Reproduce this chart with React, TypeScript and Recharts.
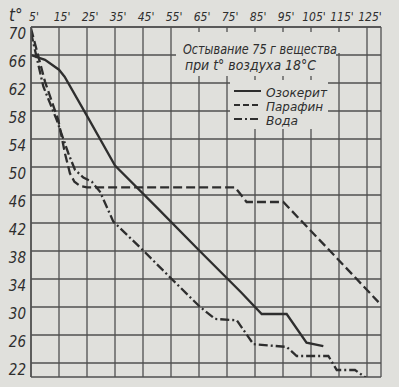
import React from 'react';
import { CartesianGrid, Line, LineChart, XAxis, YAxis } from 'recharts';

// minutes / °C
const ozokeritTime = [5, 10, 15, 17, 25, 35, 50, 65, 80, 87.4, 96.3, 103.4, 109.4];
const ozokeritTemp = [66, 65.3, 63.9, 62.9, 57.3, 50.2, 44.2, 38.1, 32.1, 29.0, 29.0, 24.9, 24.4];

const paraffinTime = [5, 10, 14.75, 17.1, 18.9, 20.5, 22.5, 25, 77.9, 82, 95.1, 114.2, 129.1];
const paraffinTemp = [69.8, 62.2, 56.7, 52, 49.1, 47.9, 47.3, 47.1, 47.1, 45, 45, 37, 30.7];

const waterTime = [5, 9.4, 14.2, 18.3, 20.7, 23.7, 26.7, 29.6, 34.4, 45, 55.5, 65.4, 70.7, 78.5, 84.4, 96.3, 99.9, 111.2, 114.2, 120.7, 124.9];
const waterTemp = [69.2, 61.5, 56.7, 52, 49.6, 48.5, 47.9, 46.5, 42.2, 38.1, 33.9, 30.0, 28.3, 28.1, 24.7, 24.3, 23.0, 23.0, 21.0, 21.0, 19.8];

const minuteTicks = [5, 15, 25, 35, 45, 55, 65, 75, 85, 95, 105, 115, 125, 130];
const degreeTicks = [20, 22, 26, 30, 34, 38, 42, 46, 50, 54, 58, 62, 66, 70];

const titleLines = ['Остывание 75 г вещества', 'при t° воздуха 18°C'];
const seriesNames = ['Озокерит', 'Парафин', 'Вода'];
const legendWidths = [61, 57, 32];

const toPoints = (time: number[], temp: number[]) => time.map((t, i) => ({ t, c: temp[i] }));
const ozokerit = toPoints(ozokeritTime, ozokeritTemp);
const paraffin = toPoints(paraffinTime, paraffinTemp);
const water = toPoints(waterTime, waterTemp);

const paper = '#e0e0dc';
const ink = '#2e2e2e';
const gridInk = '#505050';
const font = "'DejaVu Sans Condensed', 'Liberation Sans Narrow', 'DejaVu Sans', sans-serif";

const MinuteTick = ({ x, y, payload }: any) => {
  if (payload.value === 130) return <g />;
  return (
    <text x={x + 3} y={y - 6} textAnchor="middle" fontFamily={font} fontStyle="italic" fontSize={12} fill={ink}>
      {`${payload.value}'`}
    </text>
  );
};

const DegreeTick = ({ x, y, payload }: any) => {
  if (payload.value === 20) return <g />;
  return (
    <text x={x - 5} y={y + 12} textAnchor="end" fontFamily={font} fontStyle="italic" fontSize={15} fill={ink}>
      {payload.value}
    </text>
  );
};

const Overlay = () => (
  <svg width={399} height={387} style={{ position: 'absolute', left: 0, top: 0, pointerEvents: 'none' }}>
    <text x={9} y={21} fontFamily={font} fontStyle="italic" fontSize={17} fill={ink}>t°</text>
    <rect x={176} y={32} width={164} height={21} fill={paper} />
    <rect x={176} y={52} width={160} height={24} fill={paper} />
    <text x={183} y={54} textLength={154} lengthAdjust="spacingAndGlyphs" fontFamily={font} fontStyle="italic" fontSize={14} fill={ink}>
      {titleLines[0]}
    </text>
    <text x={185} y={70} textLength={131} lengthAdjust="spacingAndGlyphs" fontFamily={font} fontStyle="italic" fontSize={14} fill={ink}>
      {titleLines[1]}
    </text>
    <rect x={230} y={80} width={98} height={49} fill={paper} />
    {seriesNames.map((name, i) => (
      <g key={name}>
        <line x1={234} x2={261} y1={91 + i * 14} y2={91 + i * 14} stroke={ink} strokeWidth={2} strokeDasharray={i === 1 ? '6 3' : i === 2 ? '8 3 2 3' : undefined} />
        <text x={266} y={97 + i * 14} textLength={legendWidths[i]} lengthAdjust="spacingAndGlyphs" fontFamily={font} fontStyle="italic" fontSize={13} fill={ink}>
          {name}
        </text>
      </g>
    ))}
  </svg>
);

export default function App() {
  return (
    <div style={{ position: 'absolute', left: 0, top: 0, width: 399, height: 387, background: paper }}>
      <LineChart width={399} height={387} margin={{ top: 0, right: 18, bottom: 10, left: 0 }}>
        <CartesianGrid stroke={gridInk} strokeWidth={1.3} />
        <XAxis
          dataKey="t"
          type="number"
          orientation="top"
          domain={[5, 130]}
          ticks={minuteTicks}
          interval={0}
          height={27}
          tickSize={0}
          tickMargin={0}
          tickLine={false}
          axisLine={{ stroke: gridInk, strokeWidth: 1.5 }}
          tick={<MinuteTick />}
          allowDataOverflow
        />
        <YAxis
          type="number"
          domain={[20, 70]}
          ticks={degreeTicks}
          interval={0}
          width={31}
          tickSize={0}
          tickMargin={0}
          tickLine={false}
          axisLine={{ stroke: gridInk, strokeWidth: 1.5 }}
          tick={<DegreeTick />}
          allowDataOverflow
        />
        <Line data={ozokerit} dataKey="c" type="linear" stroke={ink} strokeWidth={2.3} dot={false} isAnimationActive={false} />
        <Line data={paraffin} dataKey="c" type="linear" stroke={ink} strokeWidth={2.3} strokeDasharray="9 4" dot={false} isAnimationActive={false} />
        <Line data={water} dataKey="c" type="linear" stroke={ink} strokeWidth={2.3} strokeDasharray="9 3 2 3" dot={false} isAnimationActive={false} />
      </LineChart>
      <Overlay />
    </div>
  );
}
